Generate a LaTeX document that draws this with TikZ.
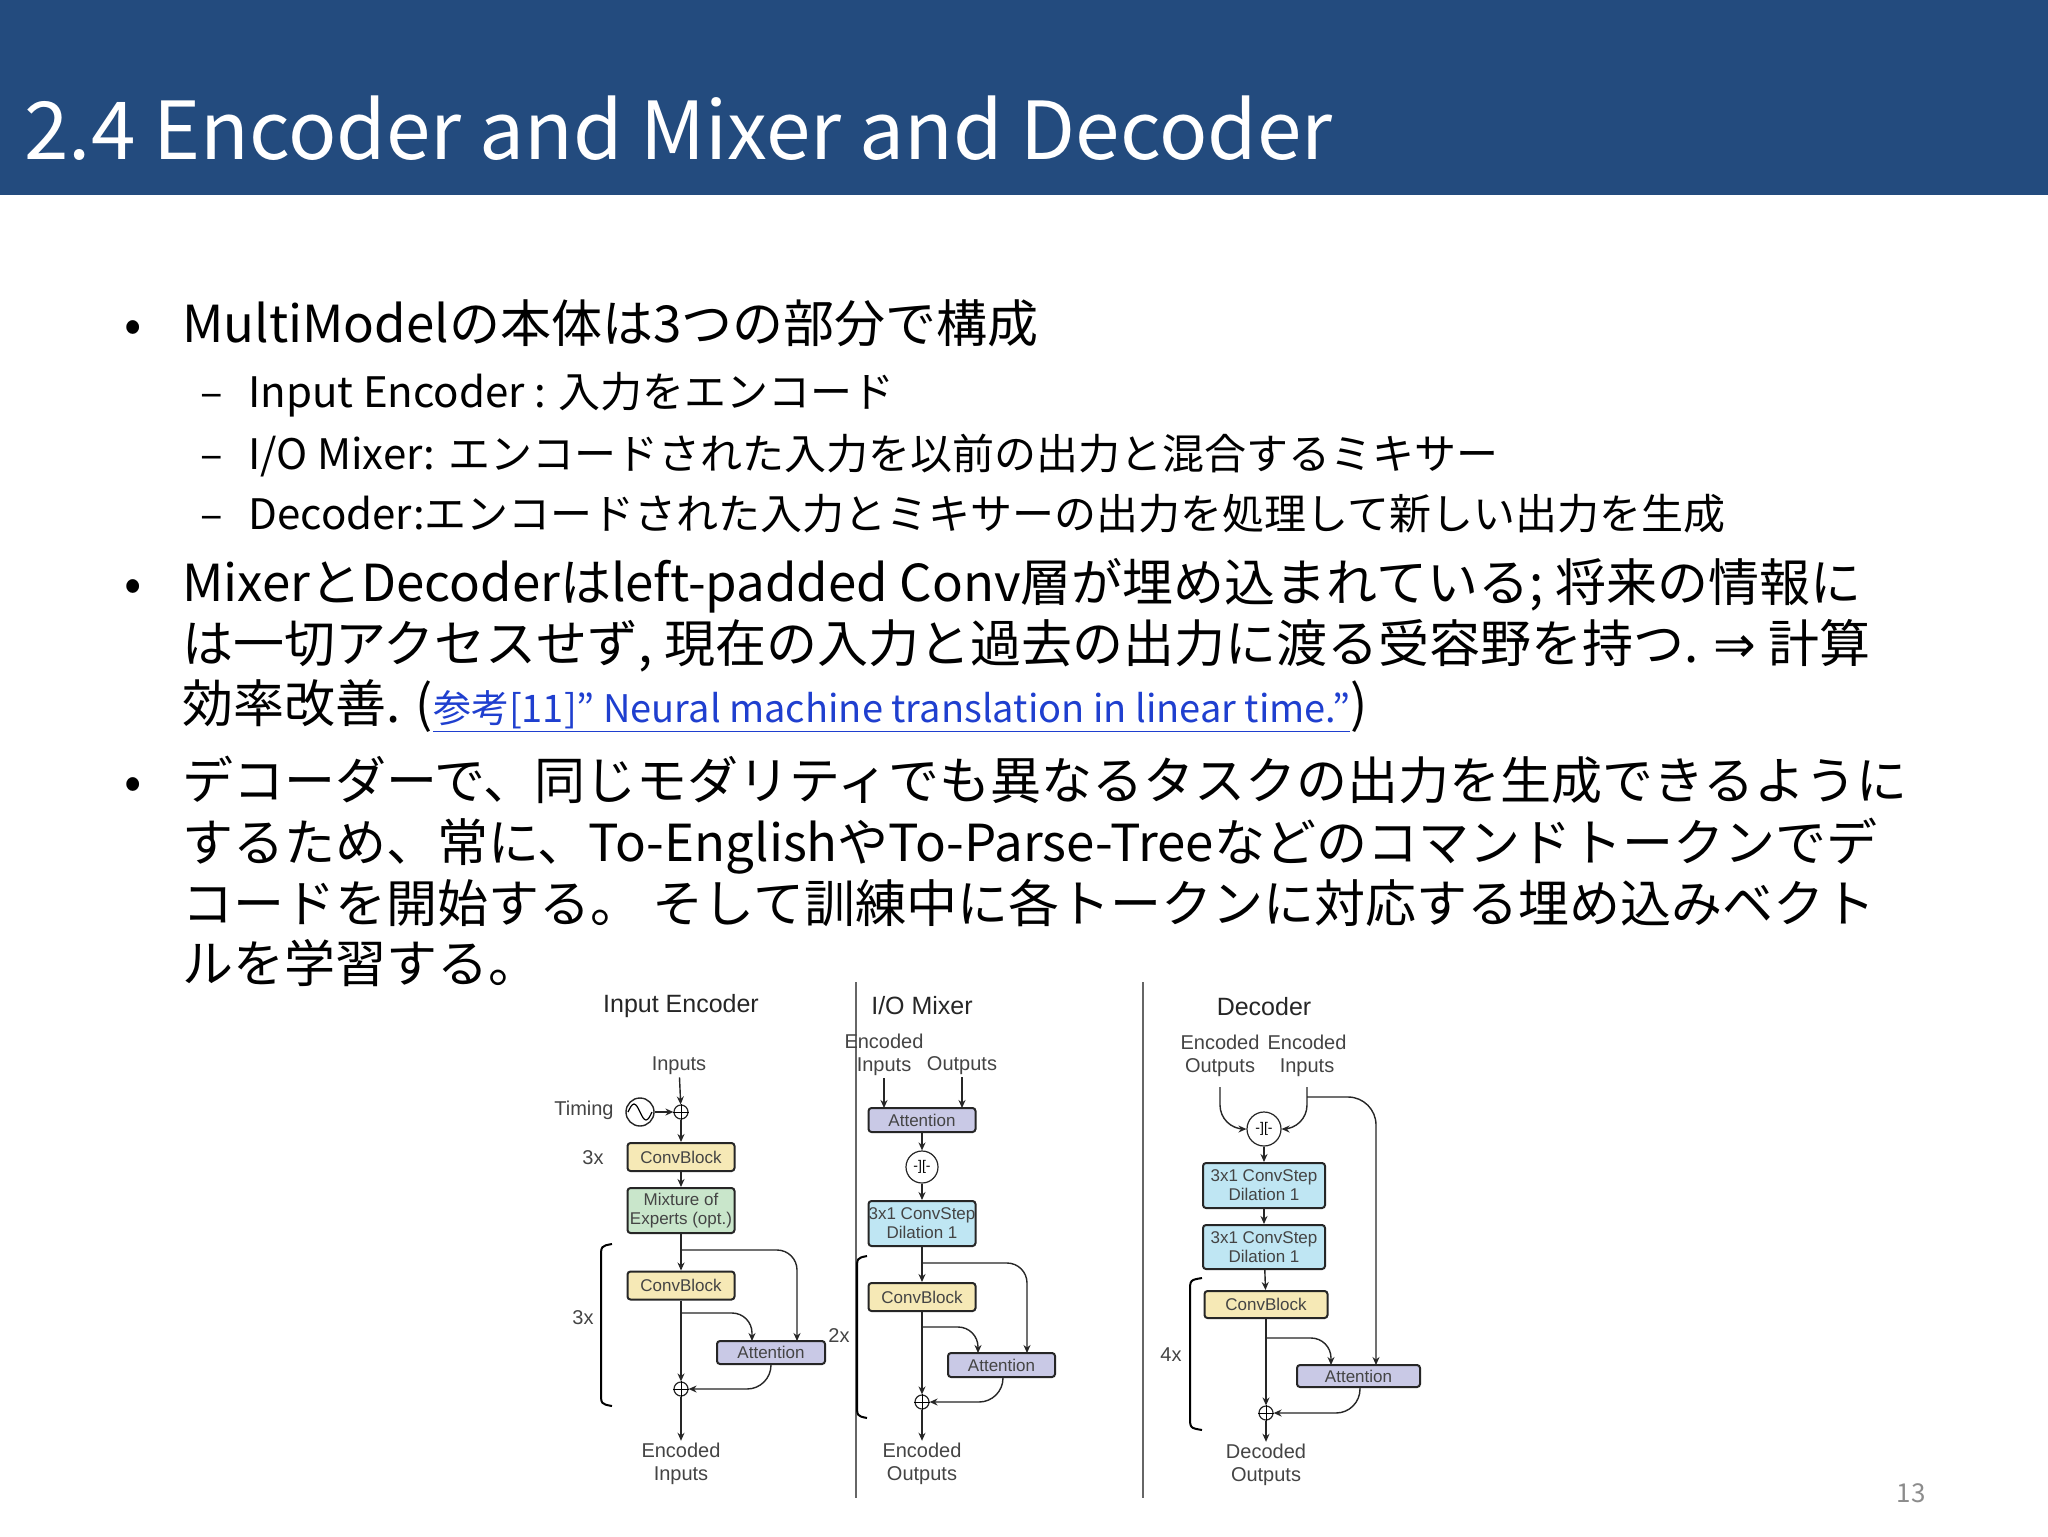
\documentclass[tikz,border=0pt]{standalone}
\usepackage{fontspec}
\setmainfont{Noto Sans CJK JP}
\newfontfamily\diafont{Liberation Sans}
\newfontfamily\symfont{DejaVu Sans}
\usetikzlibrary{arrows.meta}
\definecolor{hdr}{HTML}{234B7E}
\definecolor{yel}{HTML}{F6E9B6}
\definecolor{grn}{HTML}{C9E6CB}
\definecolor{lav}{HTML}{C9C9E6}
\definecolor{blu}{HTML}{BFE6F3}
\definecolor{dtxt}{HTML}{444444}
\definecolor{lnk}{HTML}{1F3FCF}
\tikzset{
 bx/.style={draw=black!85,line width=1pt,rounded corners=1.5pt,minimum width=53.5pt,inner sep=0pt,align=center,font=\diafont\fontsize{8.5}{9.5}\selectfont,text=dtxt},
 ar/.style={draw=black!85,line width=0.7pt,-{Stealth[length=4pt,width=3.5pt]}},
 ln/.style={draw=black!85,line width=0.7pt},
 lbl/.style={font=\diafont\fontsize{10}{11.5}\selectfont,text=dtxt,align=center,inner sep=1pt},
 ttl/.style={font=\diafont\fontsize{12.5}{14}\selectfont,text=black!85},
 plusn/.style={draw=black!85,line width=0.6pt,circle,minimum size=7pt,inner sep=0pt,fill=white},
 catn/.style={draw=black!85,line width=0.6pt,circle,minimum size=16pt,inner sep=0pt,fill=white,font=\diafont\fontsize{7}{7}\selectfont},
 big/.style={anchor=base west,inner sep=0pt,font=\fontsize{25.5}{28}\selectfont},
 small/.style={anchor=base west,inner sep=0pt,font=\fontsize{21}{24}\selectfont},
}
\newcommand{\plusmark}[1]{\draw[line width=0.5pt] (#1.north)--(#1.south) (#1.west)--(#1.east);}
\begin{document}
\begin{tikzpicture}[x=0.5pt,y=-0.5pt]
\useasboundingbox[fill=white] (0,0) rectangle (2048,1536);
\fill[hdr] (0,0) rectangle (2048,195);
\node[anchor=base west,inner sep=0pt,text=white,font=\fontsize{40}{44}\selectfont] (title) at (24,159) {2.4 Encoder and Mixer and Decoder};
% bullets
\node[big] (d1) at (124,342) {•};
\node[big] (b1) at (182,342) {MultiModelの本体は3つの部分で構成};
\node[small] (s1d) at (200,407) {–};
\node[small] (s1) at (248,407) {Input Encoder : 入力をエンコード};
\node[small] (s2d) at (200,469) {–};
\node[small] (s2) at (248,469) {I/O Mixer: エンコードされた入力を以前の出力と混合するミキサー};
\node[small] (s3d) at (200,529) {–};
\node[small] (s3) at (248,529) {Decoder:エンコードされた入力とミキサーの出力を処理して新しい出力を生成};
\node[big] (d2) at (124,601) {•};
\node[big] (b2a) at (182,601) {MixerとDecoderはleft-padded Conv層が埋め込まれている; 将来の情報に};
\node[big] (b2b) at (182,662) {は一切アクセスせず, 現在の入力と過去の出力に渡る受容野を持つ. {\symfont ⇒} 計算};
\node[big] (b2c) at (182,722) {効率改善. ({\color{lnk}\fontsize{19}{22}\selectfont\underline{参考[11]” Neural machine translation in linear time.”}})};
\node[big] (d3) at (124,799) {•};
\node[big] (b3a) at (182,799) {デコーダーで、同じモダリティでも異なるタスクの出力を生成できるように};
\node[big] (b3b) at (182,861) {するため、常に、To-EnglishやTo-Parse-Treeなどのコマンドトークンでデ};
\node[big] (b3c) at (182,922) {コードを開始する。 そして訓練中に各トークンに対応する埋め込みベクト};
\node[big] (b3d) at (182,982) {ルを学習する。};
\node[anchor=base,text=black!45,font=\fontsize{13}{14}\selectfont] (pg) at (1911,1502) {13};
% dividers
\draw[black!60,line width=0.8pt] (856,982) -- (856,1498);
\draw[black!60,line width=0.8pt] (1143,982) -- (1143,1498);
% ===== Input Encoder
\node[ttl] (t1) at (681,1006) {Input Encoder};
\node[lbl] (ein) at (679,1066) {Inputs};
\node[plusn] (ep1) at (681,1112) {}; \plusmark{ep1}
\node[draw=black!85,line width=0.7pt,circle,minimum size=14pt,inner sep=0pt] (tim) at (640,1112) {};
\draw[line width=0.6pt] (628,1112) sin (634,1104) cos (640,1112) sin (646,1120) cos (652,1112);
\node[lbl,anchor=east] (timl) at (616,1110) {Timing};
\node[bx,fill=yel,minimum height=14pt] (ecb1) at (681,1157) {ConvBlock};
\node[lbl] (e3a) at (593,1158) {3x};
\node[bx,fill=grn,minimum height=22.5pt] (emoe) at (681,1210.5) {Mixture of\\Experts (opt.)};
\node[bx,fill=yel,minimum height=14pt] (ecb2) at (681,1285.5) {ConvBlock};
\node[bx,fill=lav,minimum height=11.5pt,minimum width=54pt] (eatt) at (771,1352.5) {Attention};
\node[plusn] (ep2) at (681,1389) {}; \plusmark{ep2}
\node[lbl] (eout) at (681,1464) {Encoded\\Inputs};
\node[lbl] (e3b) at (583,1318) {3x};
\draw[ar] (ein) -- (ep1);
\draw[ar] (tim) -- (ep1);
\draw[ar] (ep1) -- (ecb1);
\draw[ar] (ecb1) -- (emoe);
\draw[ar] (emoe) -- (ecb2);
\coordinate (eb1) at (681,1250);
\coordinate (ea1) at (797,1341);
\draw[ar,rounded corners=10pt] (eb1) -| (ea1);
\draw[ar] (ecb2) -- (ep2);
\coordinate (eb2) at (681,1313);
\coordinate (ea2) at (752,1341);
\draw[ar,rounded corners=10pt] (eb2) -| (ea2);
\draw[ar,rounded corners=12pt] (eatt.south) |- (ep2.east);
\draw[ar] (ep2) -- (eout);
\draw[line width=1pt] (612,1244) .. controls (601,1246) .. (601,1258) -- (601,1392) .. controls (601,1404) .. (612,1406);
% ===== I/O Mixer
\node[ttl] (t2) at (922,1006) {I/O Mixer};
\node[lbl] (min) at (884,1055) {Encoded\\Inputs};
\node[lbl] (mout) at (962,1066) {Outputs};
\node[bx,fill=lav,minimum height=12pt] (matt1) at (922,1120) {Attention};
\node[catn] (mcat) at (922,1167) {-][-};
\node[bx,fill=blu,minimum height=22.5pt] (mcs) at (922,1223.5) {3x1 ConvStep\\Dilation 1};
\node[bx,fill=yel,minimum height=14pt] (mcb) at (922,1297) {ConvBlock};
\node[bx,fill=lav,minimum height=12pt] (matt2) at (1001.5,1365) {Attention};
\node[plusn] (mp) at (922,1402) {}; \plusmark{mp}
\node[lbl] (mo) at (922,1464) {Encoded\\Outputs};
\node[lbl] (m2x) at (839,1335) {2x};
\coordinate (mia) at (884,1108);
\coordinate (moa) at (962,1108);
\draw[ar] (min) -- (mia);
\draw[ar] (mout) -- (moa);
\draw[ar] (matt1) -- (mcat);
\draw[ar] (mcat) -- (mcs);
\draw[ar] (mcs) -- (mcb);
\coordinate (mb1) at (922,1263);
\coordinate (ma1) at (1027,1353);
\draw[ar,rounded corners=10pt] (mb1) -| (ma1);
\draw[ar] (mcb) -- (mp);
\coordinate (mb2) at (922,1327);
\coordinate (ma2) at (978,1353);
\draw[ar,rounded corners=10pt] (mb2) -| (ma2);
\coordinate (ms) at (1003,1377);
\draw[ar,rounded corners=12pt] (ms) |- (mp.east);
\draw[ar] (mp) -- (mo);
\draw[line width=1pt] (867,1256) .. controls (857,1258) .. (857,1270) -- (857,1404) .. controls (857,1416) .. (867,1418);
% ===== Decoder
\node[ttl] (t3) at (1264,1007) {Decoder};
\node[lbl] (deo) at (1220,1056) {Encoded\\Outputs};
\node[lbl] (dei) at (1307,1056) {Encoded\\Inputs};
\node[catn,minimum size=17pt] (dcat) at (1264,1129) {-][-};
\node[bx,fill=blu,minimum height=22.5pt,minimum width=61pt] (dcs1) at (1264,1185.5) {3x1 ConvStep\\Dilation 1};
\node[bx,fill=blu,minimum height=22pt,minimum width=61pt] (dcs2) at (1264,1247) {3x1 ConvStep\\Dilation 1};
\node[bx,fill=yel,minimum height=13.5pt,minimum width=61.5pt] (dcb) at (1266,1304.5) {ConvBlock};
\node[bx,fill=lav,minimum height=11pt,minimum width=61.5pt] (datt) at (1358.5,1376) {Attention};
\node[plusn] (dp) at (1266,1413) {}; \plusmark{dp}
\node[lbl] (do) at (1266,1465) {Decoded\\Outputs};
\node[lbl] (d4x) at (1171,1355) {4x};
\coordinate (dot) at (1220,1087);
\coordinate (dit) at (1307,1087);
\draw[ar,rounded corners=12pt] (dot) |- (dcat.west);
\draw[ar,rounded corners=12pt] (dit) |- (dcat.east);
\coordinate (dib) at (1307,1097);
\coordinate (dia) at (1376,1365);
\draw[ar,rounded corners=14pt] (dib) -| (dia);
\draw[ar] (dcat) -- (dcs1);
\draw[ar] (dcs1) -- (dcs2);
\draw[ar] (dcs2) -- (dcb);
\draw[ar] (dcb) -- (dp);
\coordinate (db2) at (1266,1338);
\coordinate (da2) at (1331,1365);
\draw[ar,rounded corners=10pt] (db2) -| (da2);
\coordinate (ds) at (1360,1387);
\draw[ar,rounded corners=12pt] (ds) |- (dp.east);
\draw[ar] (dp) -- (do);
\draw[line width=1pt] (1202,1278) .. controls (1190,1280) .. (1190,1292) -- (1190,1416) .. controls (1190,1428) .. (1202,1430);
\end{tikzpicture}
\end{document}
